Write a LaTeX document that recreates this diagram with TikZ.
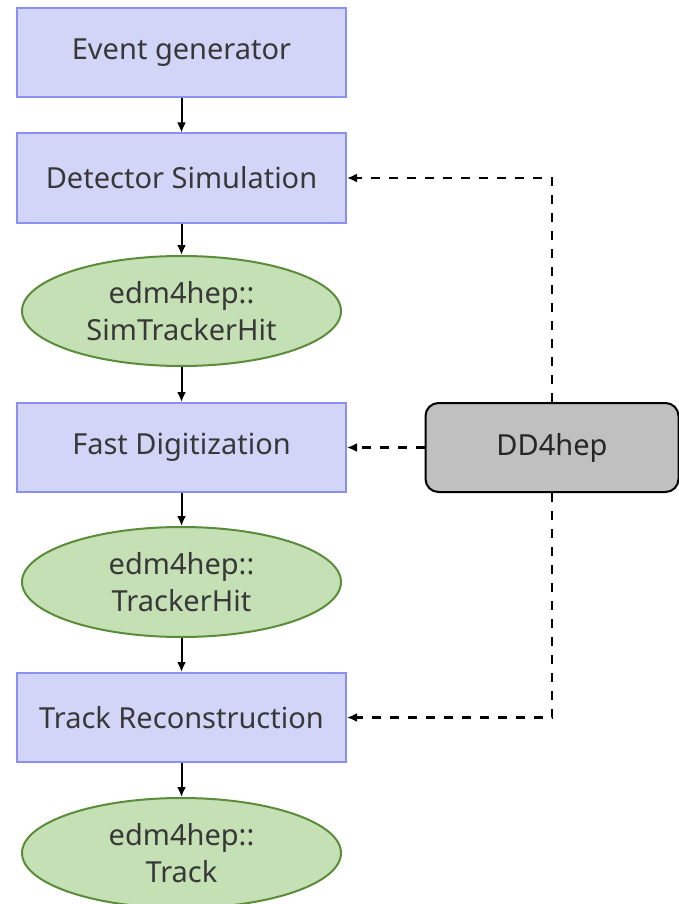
\documentclass[tikz,border=0pt]{standalone}
\usepackage{fontspec}
\setmainfont{Noto Sans}
\usepackage{xcolor}
\usepackage{tikz}
\usetikzlibrary{shapes,arrows,positioning,calc,arrows.meta}

\definecolor{stepfill}{HTML}{D2D5F7}
\definecolor{stepline}{HTML}{8A90F0}
\definecolor{datafill}{HTML}{C5E0B4}
\definecolor{dataline}{HTML}{5B8C3A}
\definecolor{geofill}{HTML}{C0C0C0}
\definecolor{txt}{HTML}{383838}

\tikzset{
    stepbox/.style={draw=stepline, fill=stepfill, line width=2pt, minimum width=329pt, minimum height=89pt, inner sep=0pt, text=txt},
    datablob/.style={ellipse, draw=dataline, fill=datafill, line width=2pt, minimum width=319pt, minimum height=110pt, inner sep=0pt, align=center, text=txt},
    geobox/.style={draw=black, fill=geofill, line width=2pt, rounded corners=13pt, minimum width=253pt, minimum height=89pt, inner sep=0pt, text=black!85},
    flow/.style={line width=2pt, -{Latex[length=10pt,width=9pt]}},
    link/.style={line width=2.2pt, dash pattern=on 9pt off 9pt, -{Latex[length=10pt,width=9pt]}}
}

\begin{document}
\begin{tikzpicture}[x=1pt, y=-1pt, font=\fontsize{29}{37}\selectfont]
    \useasboundingbox (0,0) rectangle (679,904);

    % Processing chain
    \node[stepbox] (gen) at (181.5,52.5) {Event generator};
    \node[stepbox] (sim) at (181.5,178) {Detector Simulation};
    \node[datablob] (simhit) at (181.5,311) {edm4hep::\\SimTrackerHit};
    \node[stepbox] (digi) at (181.5,447.5) {Fast Digitization};
    \node[datablob] (hit) at (181.5,582) {edm4hep::\\TrackerHit};
    \node[stepbox] (reco) at (181.5,717.5) {Track Reconstruction};
    \node[datablob] (track) at (181.5,853) {edm4hep::\\Track};

    % Geometry service
    \node[geobox] (geo) at (552,447.5) {DD4hep};

    % Data flow
    \draw[flow] (gen) -- (sim);
    \draw[flow] (sim) -- (simhit);
    \draw[flow] (simhit) -- (digi);
    \draw[flow] (digi) -- (hit);
    \draw[flow] (hit) -- (reco);
    \draw[flow] (reco) -- (track);

    % Geometry links
    \draw[link] (geo.north) |- (sim.east);
    \draw[link] (geo.west) -- (digi.east);
    \draw[link] (geo.south) |- (reco.east);
\end{tikzpicture}
\end{document}
